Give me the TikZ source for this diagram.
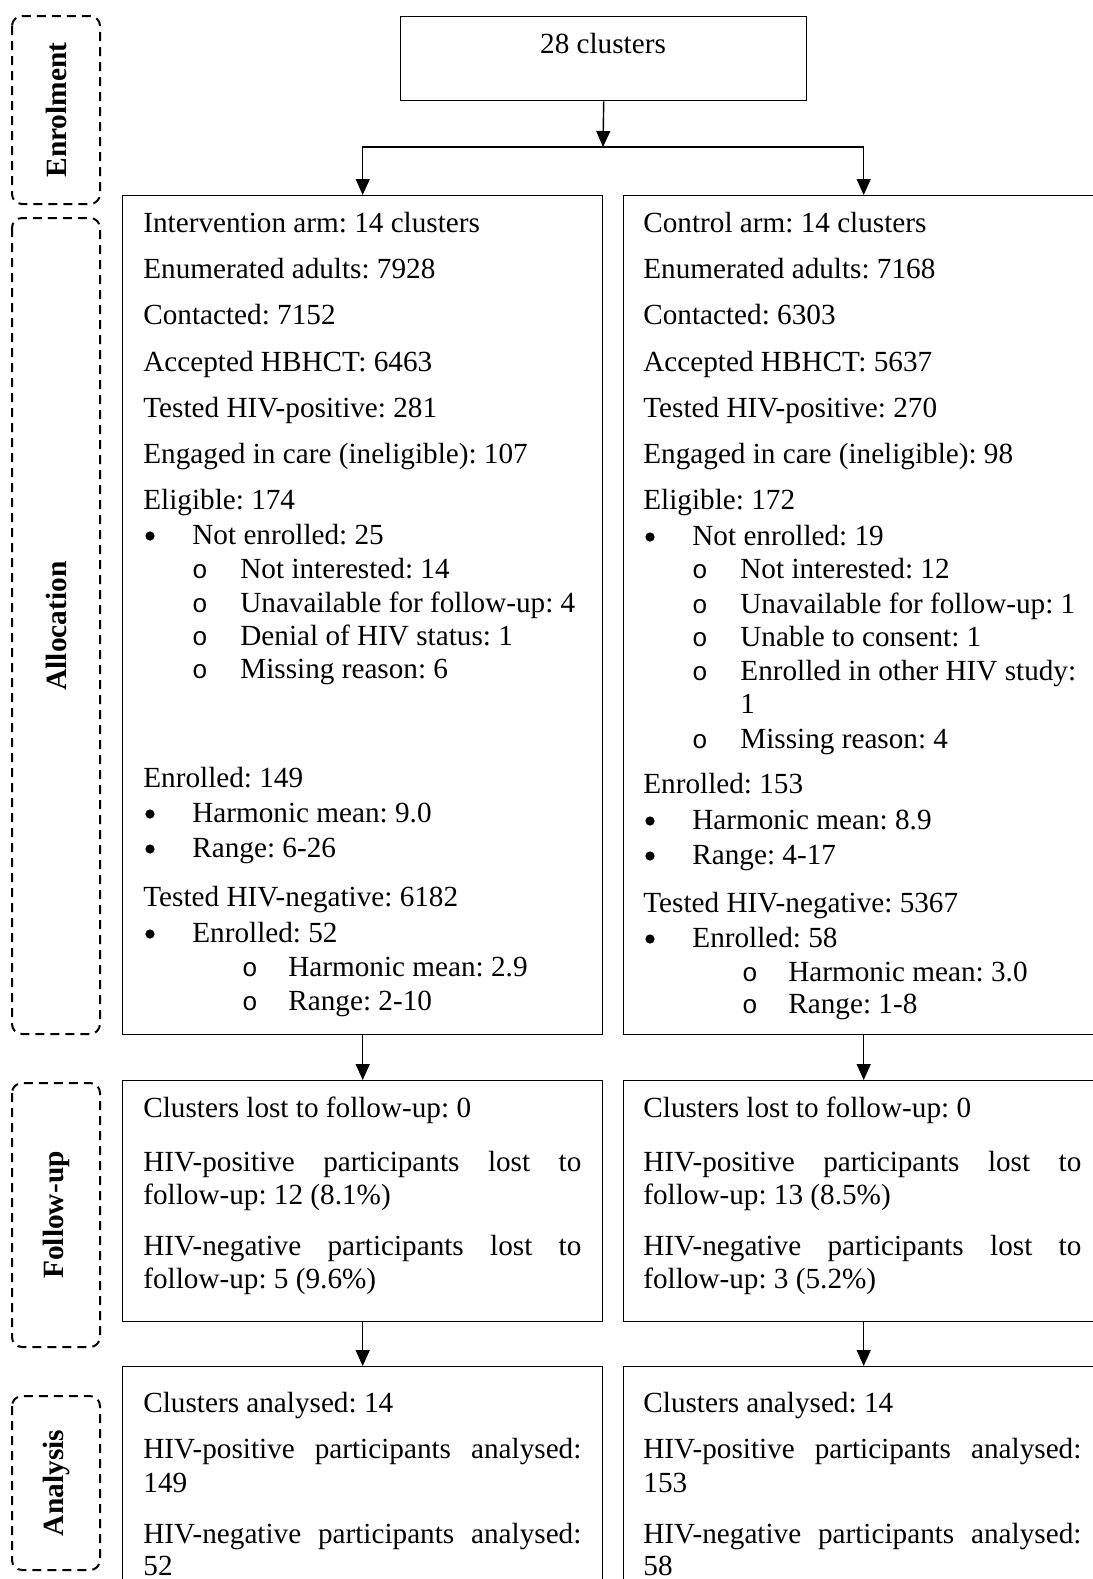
\documentclass[tikz,border=0pt]{standalone}
\usepackage{fontspec}
\setmainfont{Liberation Serif}
\newfontfamily\circfont{Liberation Mono}
\usetikzlibrary{arrows.meta,positioning}
\tikzset{
  armbox/.style={draw,line width=0.7pt,anchor=north west,inner sep=0pt,
    minimum width=240pt},
  phase/.style={draw,line width=1pt,dash pattern=on 4.5pt off 3pt,
    rounded corners=5pt},
  phaselabel/.style={rotate=90,font=\fontsize{14.7pt}{17pt}\selectfont\bfseries},
  txt/.style={anchor=base west,inner sep=0pt},
  dotbul/.style={circle,fill,inner sep=0pt,minimum size=4.6pt},
  circbul/.style={anchor=base,inner sep=0pt,font=\fontsize{13pt}{17pt}\circfont},
  flow/.style={-{Triangle[width=7pt,length=8pt]},line width=0.7pt}
}
\newcommand{\spread}[1]{\hbox to 219pt{#1}}
\begin{document}
\frenchspacing
\begin{tikzpicture}[x=0.5pt,y=-0.5pt,font=\fontsize{14.6pt}{17pt}\selectfont]
\useasboundingbox (0,0) rectangle (1092,1579);

\draw[phase] (12,16) rectangle (100,204);
\draw[phase] (12,218) rectangle (100,1034);
\draw[phase] (12,1083) rectangle (100,1347);
\draw[phase] (12,1396) rectangle (100,1570);

\node[phaselabel] (enrollbl) at (56,110) {Enrolment};
\node[phaselabel] (alloclbl) at (56,626) {Allocation};
\node[phaselabel] (fuplbl) at (56,1215) {Follow-up};
\node[phaselabel] (analbl) at (56,1483) {Analysis};

\node[armbox,minimum width=203pt,minimum height=42pt] (clusters) at (400,16) {};
\node[anchor=base,inner sep=0pt] (clusterstxt) at (603,53) {28 clusters};

\node[armbox,minimum height=419.5pt] (intv) at (122,195) {};
\node[armbox,minimum height=419.5pt] (ctrl) at (623,195) {};
\node[armbox,minimum height=120.5pt] (intvfu) at (122,1080) {};
\node[armbox,minimum height=120.5pt] (ctrlfu) at (623,1080) {};
\node[armbox,minimum height=125pt] (intvan) at (122,1366) {};
\node[armbox,minimum height=125pt] (ctrlan) at (623,1366) {};

\coordinate (split) at (603,147);
\draw[flow] (clusters.south) -- (split);
\draw[flow] (split) -| (intv.north);
\draw[flow] (split) -| (ctrl.north);
\draw[flow] (intv.south) -- (intvfu.north);
\draw[flow] (ctrl.south) -- (ctrlfu.north);
\draw[flow] (intvfu.south) -- (intvan.north);
\draw[flow] (ctrlfu.south) -- (ctrlan.north);

% intervention arm
\foreach \y/\t in {232/Intervention arm: 14 clusters, 278/Enumerated adults: 7928,
    324/Contacted: 7152, 371/Accepted HBHCT: 6463, 417/Tested HIV-positive: 281,
    463/Engaged in care (ineligible): 107, 509/Eligible: 174, 787/Enrolled: 149,
    906/Tested HIV-negative: 6182}
  \node[txt] (intv-\y) at (143,\y) {\t};
\foreach \y/\t in {544/Not enrolled: 25, 822/Harmonic mean: 9.0,
    857/Range: 6-26, 942/Enrolled: 52} {
  \node[dotbul] (intvb-\y) at (150,\y-8) {};
  \node[txt] (intvbt-\y) at (192,\y) {\t};
}
\foreach \y/\t in {578/Not interested: 14, 612/Unavailable for follow-up: 4,
    645/Denial of HIV status: 1, 678/Missing reason: 6} {
  \node[circbul] (intvo-\y) at (200,\y) {o};
  \node[txt] (intvot-\y) at (240,\y) {\t};
}
\foreach \y/\t in {976/Harmonic mean: 2.9, 1010/Range: 2-10} {
  \node[circbul] (intvoo-\y) at (250,\y) {o};
  \node[txt] (intvoot-\y) at (288,\y) {\t};
}

% control arm
\foreach \y/\t in {232/Control arm: 14 clusters, 278/Enumerated adults: 7168,
    324/Contacted: 6303, 371/Accepted HBHCT: 5637, 417/Tested HIV-positive: 270,
    463/Engaged in care (ineligible): 98, 509/Eligible: 172, 793/Enrolled: 153,
    912/Tested HIV-negative: 5367}
  \node[txt] (ctrl-\y) at (643,\y) {\t};
\foreach \y/\t in {545/Not enrolled: 19, 829/Harmonic mean: 8.9,
    864/Range: 4-17, 947/Enrolled: 58} {
  \node[dotbul] (ctrlb-\y) at (650,\y-8) {};
  \node[txt] (ctrlbt-\y) at (692,\y) {\t};
}
\foreach \y/\t in {578/Not interested: 12, 613/Unavailable for follow-up: 1,
    646/Unable to consent: 1, 680/Enrolled in other HIV study:,
    748/Missing reason: 4} {
  \node[circbul] (ctrlo-\y) at (700,\y) {o};
  \node[txt] (ctrlot-\y) at (740,\y) {\t};
}
\node[txt] (ctrlot-713) at (740,713) {1};
\foreach \y/\t in {981/Harmonic mean: 3.0, 1013/Range: 1-8} {
  \node[circbul] (ctrloo-\y) at (750,\y) {o};
  \node[txt] (ctrloot-\y) at (788,\y) {\t};
}

% follow-up
\node[txt] (intvfu1) at (143,1117) {Clusters lost to follow-up: 0};
\node[txt] (intvfu2) at (143,1171) {\spread{HIV-positive\hfill participants\hfill lost\hfill to}};
\node[txt] (intvfu3) at (143,1204) {follow-up: 12 (8.1\%)};
\node[txt] (intvfu4) at (143,1255) {\spread{HIV-negative\hfill participants\hfill lost\hfill to}};
\node[txt] (intvfu5) at (143,1288) {follow-up: 5 (9.6\%)};

\node[txt] (ctrlfu1) at (643,1117) {Clusters lost to follow-up: 0};
\node[txt] (ctrlfu2) at (643,1171) {\spread{HIV-positive\hfill participants\hfill lost\hfill to}};
\node[txt] (ctrlfu3) at (643,1204) {follow-up: 13 (8.5\%)};
\node[txt] (ctrlfu4) at (643,1255) {\spread{HIV-negative\hfill participants\hfill lost\hfill to}};
\node[txt] (ctrlfu5) at (643,1288) {follow-up: 3 (5.2\%)};

% analysis
\node[txt] (intvan1) at (143,1412) {Clusters analysed: 14};
\node[txt] (intvan2) at (143,1458) {\spread{HIV-positive\hfill participants\hfill analysed:}};
\node[txt] (intvan3) at (143,1492) {149};
\node[txt] (intvan4) at (143,1543) {\spread{HIV-negative\hfill participants\hfill analysed:}};
\node[txt] (intvan5) at (143,1575) {52};

\node[txt] (ctrlan1) at (643,1412) {Clusters analysed: 14};
\node[txt] (ctrlan2) at (643,1458) {\spread{HIV-positive\hfill participants\hfill analysed:}};
\node[txt] (ctrlan3) at (643,1492) {153};
\node[txt] (ctrlan4) at (643,1543) {\spread{HIV-negative\hfill participants\hfill analysed:}};
\node[txt] (ctrlan5) at (643,1575) {58};

\end{tikzpicture}
\end{document}
